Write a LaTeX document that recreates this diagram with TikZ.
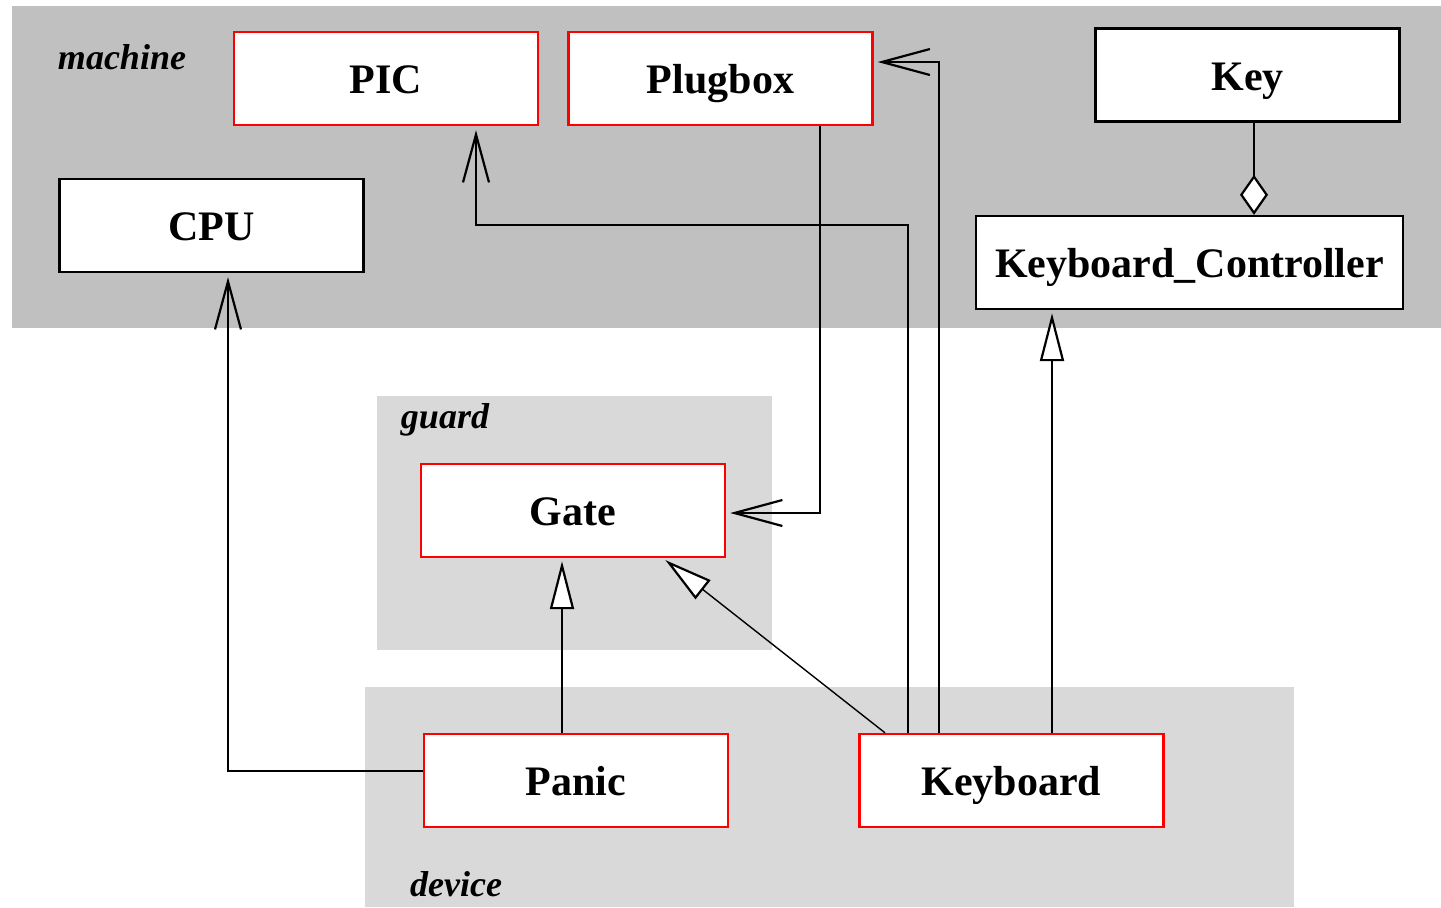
\documentclass[tikz,border=0pt]{standalone}
\usepackage{fontspec}
\setmainfont{Liberation Serif}
\usetikzlibrary{arrows.meta}
\definecolor{machgray}{HTML}{C0C0C0}
\definecolor{pkggray}{HTML}{D9D9D9}
\begin{document}
\begin{tikzpicture}[x=0.5pt,y=-0.5pt,
  box/.style={draw=black, fill=white, line width=1.2pt, minimum width=152pt, minimum height=46.5pt, inner sep=0pt, text height=17pt, text depth=2pt, font=\fontsize{21}{25}\selectfont\bfseries},
  redbox/.style={box, draw=red},
  pkglabel/.style={font=\fontsize{18}{22}\selectfont\bfseries\itshape, inner sep=0pt},
  conn/.style={line width=1.2pt},
  nav/.style={conn, -{Straight Barb[length=24pt, width=13pt, line width=1.1pt]}, shorten >=2pt},
  gen/.style={conn, -{Triangle[length=24pt, width=12pt, fill=white, line width=1.1pt]}, shorten >=1.5pt},
  agg/.style={conn, {Diamond[length=20pt, width=14pt, fill=white, line width=1.1pt]}-}
]
\useasboundingbox (0,0) rectangle (1441,907);
\fill[white] (0,0) rectangle (1441,907);
% packages
\fill[machgray] (12,6) rectangle (1441,328);
\fill[pkggray] (377,396) rectangle (772,650);
\fill[pkggray] (365,687) rectangle (1294,907);
\node[pkglabel] (lmachine) at (122,57) {machine};
\node[pkglabel] (lguard) at (445,420) {guard};
\node[pkglabel] (ldevice) at (456,884) {device};
% classes
\node[redbox] (PIC) at (386,78.5) {PIC};
\node[redbox] (Plugbox) at (720.5,78.5) {Plugbox};
\node[box] (Key) at (1247.5,75) {Key};
\node[box] (CPU) at (211.5,225.5) {CPU};
\node[box, minimum width=213.5pt] (KC) at (1189.5,262.5) {Keyboard\_Controller};
\node[redbox] (Gate) at (573,510.5) {Gate};
\node[redbox] (Panic) at (576,780.5) {Panic};
\node[redbox] (Keyboard) at (1011.5,780.5) {Keyboard};
% bend points
\coordinate (c1) at (939,62);
\coordinate (c2) at (908,225);
\coordinate (c3) at (476,225);
\coordinate (c4) at (820,513);
\coordinate (c5) at (228,771);
\coordinate (c6) at (562,0);
\coordinate (c7) at (885,0);
\coordinate (c8) at (663,0);
\coordinate (c9) at (1052,0);
\coordinate (c10) at (1254,0);
% connectors
\draw[nav] (Keyboard.north -| c1) -- (c1) -- (Plugbox.east |- c1);
\draw[nav] (Keyboard.north -| c2) -- (c2) -- (c3) -- (PIC.south -| c3);
\draw[nav] (Plugbox.south -| c4) -- (c4) -- (Gate.east |- c4);
\draw[nav] (Panic.west |- c5) -- (c5) -- (CPU.south -| c5);
\draw[gen] (Panic.north -| c6) -- (Gate.south -| c6);
\draw[gen, line width=0.7pt] (Keyboard.north -| c7) -- (Gate.south -| c8);
\draw[gen] (Keyboard.north -| c9) -- (KC.south -| c9);
\draw[agg] (KC.north -| c10) -- (Key.south -| c10);
\end{tikzpicture}
\end{document}
